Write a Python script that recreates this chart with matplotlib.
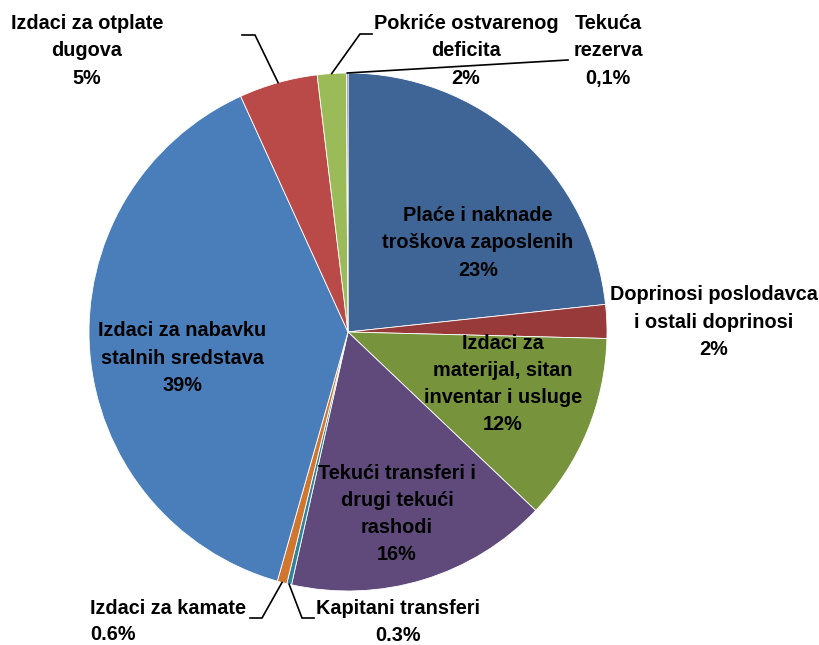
import numpy as np
import matplotlib
matplotlib.use("Agg")
import matplotlib.pyplot as plt

# shares, labels as printed on the chart
shares = [23.3, 2.1, 11.7, 16.4, 0.3, 0.6, 38.8, 4.9, 1.8, 0.1]
names = [
    "Plaće i naknade\ntroškova zaposlenih",
    "Doprinosi poslodavca\ni ostali doprinosi",
    "Izdaci za\nmaterijal, sitan\ninventar i usluge",
    "Tekući transferi i\ndrugi tekući\nrashodi",
    "Kapitani transferi",
    "Izdaci za kamate",
    "Izdaci za nabavku\nstalnih sredstava",
    "Izdaci za otplate\ndugova",
    "Pokriće ostvarenog\ndeficita",
    "Tekuća\nrezerva",
]
pct_labels = ["23%", "2%", "12%", "16%", "0.3%", "0.6%", "39%", "5%", "2%", "0,1%"]
colors = ["#3F6596", "#983A3A", "#77933C", "#604A7B", "#31849B",
          "#D0762E", "#4A7EBB", "#BA4A47", "#9BBB59", "#8064A2"]

W, H = 819, 645
cx, cy, R = 348, H - 332, 259

plt.rcParams["font.family"] = ["Liberation Sans Narrow", "Liberation Sans", "DejaVu Sans"]
fig = plt.figure(figsize=(W / 100, H / 100), dpi=100)
ax = fig.add_axes([0, 0, 1, 1])

wedges, _ = ax.pie(shares, colors=colors, startangle=90, counterclock=False,
                   center=(cx, cy), radius=R,
                   wedgeprops=dict(edgecolor="white", linewidth=0.6))
ax.set_xlim(0, W)
ax.set_ylim(0, H)
ax.set_aspect("equal")
ax.axis("off")

fs = 14.3
ls = 1.55
txt = dict(fontsize=fs, fontweight="bold", ha="center", va="center", linespacing=ls)

# label placement (pixel coords, y from top)
label_pos = {
    0: (478, 243), 1: (714, 322), 2: (503, 384), 3: (397, 514),
    6: (182, 358), 7: (87, 51), 8: (466, 51), 9: (608, 51),
}
for i, (x, y) in label_pos.items():
    ax.text(x, H - y, names[i] + "\n" + pct_labels[i], **txt)

ax.text(90, H - 608, names[5], fontsize=fs, fontweight="bold", ha="left", va="center")
ax.text(90, H - 635, pct_labels[5], fontsize=fs, fontweight="bold", ha="left", va="center")
ax.text(398, H - 622, names[4] + "\n" + pct_labels[4], fontsize=fs, fontweight="bold",
        ha="center", va="center", linespacing=ls)


def edge_point(w):
    a = np.deg2rad((w.theta1 + w.theta2) / 2)
    return cx + R * np.cos(a), cy + R * np.sin(a)


# leader lines: wedge edge -> elbow -> end
leaders = {
    7: [(255, 35), (242, 35)],
    8: [(360, 34), (372, 34)],
    9: [(568, 60)],
    5: [(262, 618), (250, 618)],
    4: [(302, 618), (314, 618)],
}
for i, pts in leaders.items():
    x0, y0 = edge_point(wedges[i])
    xs = [x0] + [p[0] for p in pts]
    ys = [y0] + [H - p[1] for p in pts]
    ax.plot(xs, ys, color="black", lw=1.2, solid_joinstyle="miter")

fig.savefig("out.png", dpi=100)
